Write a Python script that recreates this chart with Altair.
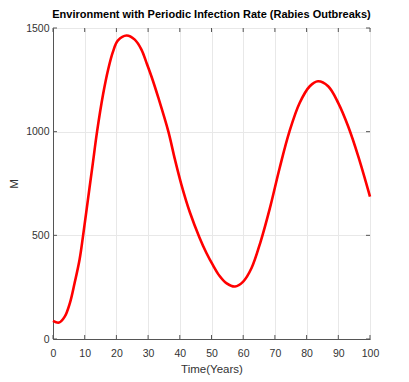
import altair as alt
import pandas as pd

# Time (years) and M values
t_vals = [0, 1.9, 3.7, 5.3, 6.8, 8.4, 9.5, 11.0, 12.5, 13.9, 15.8, 17.4, 18.9, 20.5,
          23.2, 25.8, 27.9, 29.5, 31.2, 33.2, 36.4, 38.4, 40.5, 43.2, 46.2, 48.4,
          50.5, 52.5, 54.8, 57.4, 60.0, 62.6, 65.5, 68.4, 71.5, 74.6, 77.8, 81.0,
          83.6, 86.8, 90.0, 93.1, 96.3, 100]
m_vals = [87, 79, 108, 172, 269, 385, 500, 670, 840, 1000, 1180, 1300, 1385, 1440,
          1464, 1444, 1396, 1332, 1260, 1165, 1000, 870, 745, 610, 490, 415,
          355, 305, 268, 253, 277, 341, 470, 630, 825, 1001, 1138, 1219,
          1243, 1219, 1138, 1026, 881, 687]

x_ticks = [0, 10, 20, 30, 40, 50, 60, 70, 80, 90, 100]
y_ticks = [0, 500, 1000, 1500]

W, H = 317, 311
FONT = "Liberation Sans"

df = pd.DataFrame({"t": t_vals, "M": m_vals})
xt = pd.DataFrame({"t": x_ticks})
yt = pd.DataFrame({"M": y_ticks})

xscale = alt.Scale(domain=[0, 100], nice=False, zero=False)
yscale = alt.Scale(domain=[0, 1500], nice=False)

axis_common = dict(ticks=False, domainColor="#555555", gridColor="#e8e8e8",
                   labelColor="#333333", titleColor="#333333", labelFontSize=10.5,
                   titleFontSize=11.5, titleFontWeight="normal", labelFont=FONT,
                   titleFont=FONT, labelOverlap=False, format="d")
x_axis = alt.Axis(values=x_ticks, labelPadding=9, titlePadding=5, **axis_common)
y_axis = alt.Axis(values=y_ticks, labelPadding=4, titlePadding=6, titleAngle=270,
                  **axis_common)

X = lambda: alt.X("t:Q", scale=xscale, title="Time(Years)", axis=x_axis)
Y = lambda: alt.Y("M:Q", scale=yscale, title="M", axis=y_axis)

line = alt.Chart(df).mark_line(color="#ff0000", strokeWidth=2.6,
                               interpolate="catmull-rom").encode(x=X(), y=Y())

tick_color = "#555555"
bottom = alt.Chart(xt).mark_rule(color=tick_color).encode(
    x=X(), y=alt.value(H), y2=alt.value(H - 4))
top = alt.Chart(xt).mark_rule(color=tick_color).encode(
    x=X(), y=alt.value(0), y2=alt.value(4))
left = alt.Chart(yt).mark_rule(color=tick_color).encode(
    y=Y(), x=alt.value(0), x2=alt.value(4))
right = alt.Chart(yt).mark_rule(color=tick_color).encode(
    y=Y(), x=alt.value(W), x2=alt.value(W - 4))

chart = alt.layer(line, bottom, top, left, right).properties(
    width=W, height=H,
    title=alt.TitleParams("Environment  with Periodic Infection Rate (Rabies Outbreaks)",
                          font=FONT, fontSize=11, fontWeight="bold", color="#000000",
                          offset=3, frame="group"),
    autosize=alt.AutoSizeParams(type="none"),
    padding={"left": 45, "top": 20, "right": 20, "bottom": 40},
).configure_view(stroke="#555555", strokeWidth=1).configure_axis(labelFlush=False)

chart.save("out.html", embed_options={"renderer": "svg", "actions": False})
